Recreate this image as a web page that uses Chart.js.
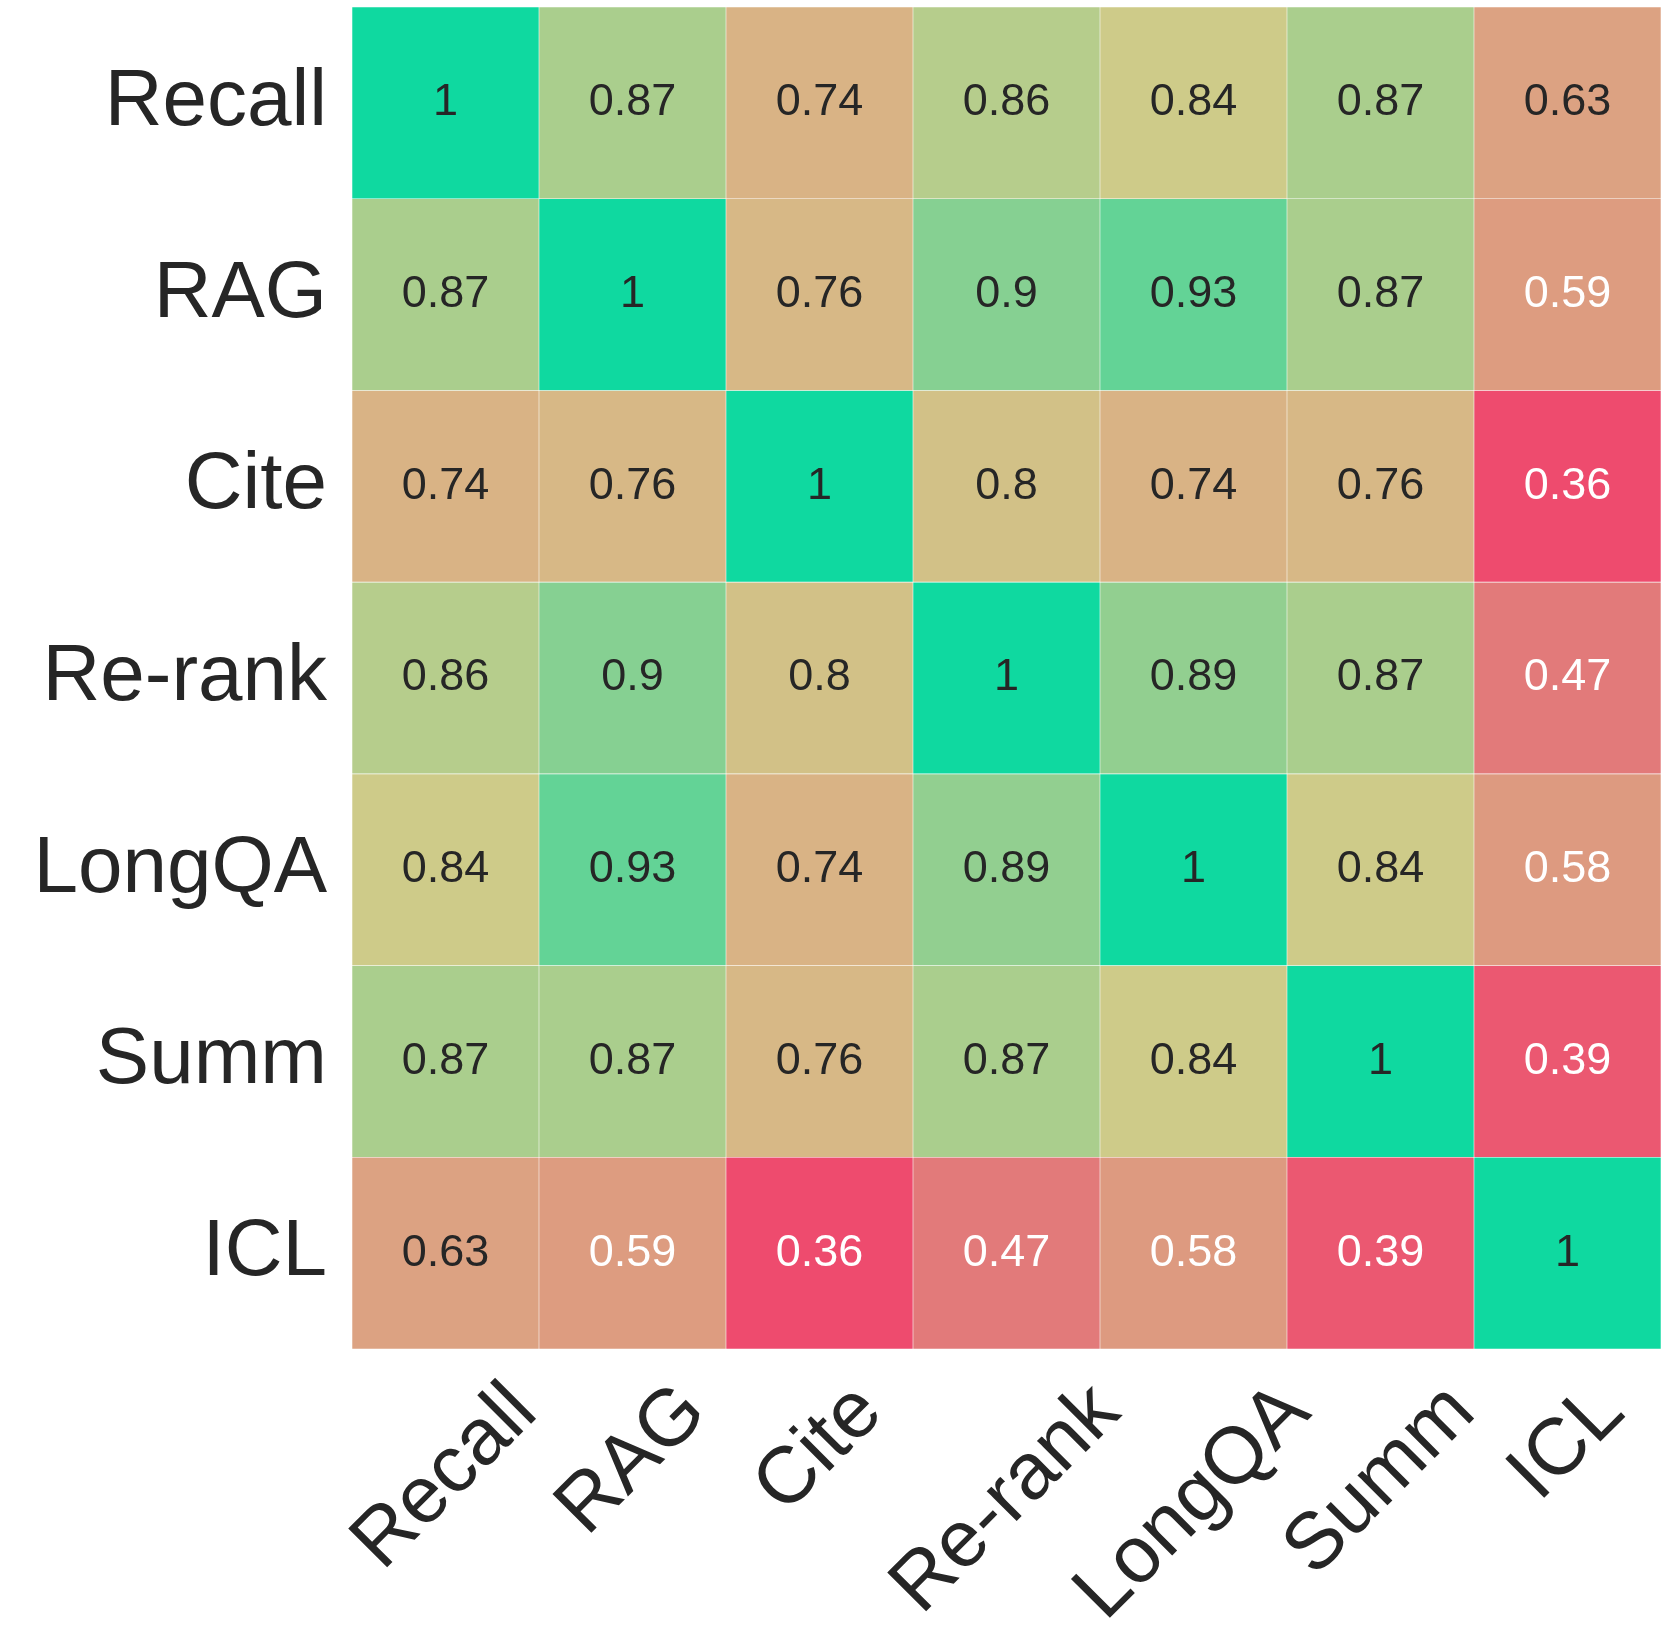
<!DOCTYPE html>
<html lang="en">
<head>
    <meta charset="UTF-8">
    <title>Task Correlation Heatmap</title>
    <script src="https://cdn.jsdelivr.net/npm/chart.js"></script>
    <style>
        html, body {
            margin: 0;
            padding: 0;
            background: #fff;
        }
        .chart-container {
            width: 1676px;
            height: 1640px;
        }
    </style>
</head>
<body>
    <div class="chart-container">
        <canvas id="heatmap" width="1676" height="1640"></canvas>
    </div>

    <script>
        // Task names (rows and columns share the same order)
        const tasks = ['Recall', 'RAG', 'Cite', 'Re-rank', 'LongQA', 'Summ', 'ICL'];

        // One array per row of the correlation matrix
        const recallRow = [1, 0.87, 0.74, 0.86, 0.84, 0.87, 0.63];
        const ragRow    = [0.87, 1, 0.76, 0.9, 0.93, 0.87, 0.59];
        const citeRow   = [0.74, 0.76, 1, 0.8, 0.74, 0.76, 0.36];
        const rerankRow = [0.86, 0.9, 0.8, 1, 0.89, 0.87, 0.47];
        const longqaRow = [0.84, 0.93, 0.74, 0.89, 1, 0.84, 0.58];
        const summRow   = [0.87, 0.87, 0.76, 0.87, 0.84, 1, 0.39];
        const iclRow    = [0.63, 0.59, 0.36, 0.47, 0.58, 0.39, 1];
        const rows = [recallRow, ragRow, citeRow, rerankRow, longqaRow, summRow, iclRow];

        const fontFamily = '"Liberation Sans", Arial, sans-serif';

        // Colour map: red -> salmon -> tan -> khaki -> green
        const cmapStops = [
            [0.36, [238, 75, 110]],
            [0.47, [226, 122, 122]],
            [0.58, [221, 154, 128]],
            [0.74, [217, 179, 133]],
            [0.84, [206, 203, 137]],
            [1.00, [15, 217, 160]]
        ];

        function cellColor(v) {
            if (v <= cmapStops[0][0]) return 'rgb(' + cmapStops[0][1].join(',') + ')';
            for (let i = 1; i < cmapStops.length; i++) {
                const [v1, c1] = cmapStops[i];
                const [v0, c0] = cmapStops[i - 1];
                if (v <= v1) {
                    const t = (v - v0) / (v1 - v0);
                    const c = c0.map((a, k) => Math.round(a + (c1[k] - a) * t));
                    return 'rgb(' + c.join(',') + ')';
                }
            }
            return 'rgb(' + cmapStops[cmapStops.length - 1][1].join(',') + ')';
        }

        // each row is a dataset of floating bars spanning one row band
        const datasets = rows.map((vals, r) => ({
            label: tasks[r],
            data: vals.map(() => [r - 0.5, r + 0.5]),
            values: vals,
            backgroundColor: vals.map(cellColor),
            borderColor: 'rgba(255,255,255,0.25)',
            borderWidth: 0.6,
            borderSkipped: false,
            grouped: false,
            barPercentage: 1,
            categoryPercentage: 1
        }));

        // draws the numbers in the cells and the rotated column labels
        const cellText = {
            id: 'cellText',
            afterDatasetsDraw(chart) {
                const ctx = chart.ctx;
                const xs = chart.scales.x;
                const ys = chart.scales.y;
                ctx.save();
                ctx.textAlign = 'center';
                ctx.textBaseline = 'middle';
                ctx.font = '45px ' + fontFamily;
                chart.data.datasets.forEach((ds, r) => {
                    ds.values.forEach((v, c) => {
                        ctx.fillStyle = v < 0.6 ? '#ffffff' : '#262626';
                        ctx.fillText(String(v), xs.getPixelForValue(c), ys.getPixelForValue(r));
                    });
                });

                // column labels, rotated 45deg, centred under each column
                const top = chart.chartArea.bottom + 22;
                const size = 80;
                ctx.font = size + 'px ' + fontFamily;
                ctx.fillStyle = '#262626';
                tasks.forEach((t, i) => {
                    const w = ctx.measureText(t).width;
                    const cx = xs.getPixelForValue(i);
                    const cy = top + (w + size) / (2 * Math.SQRT2);
                    ctx.save();
                    ctx.translate(cx, cy);
                    ctx.rotate(-Math.PI / 4);
                    ctx.fillText(t, 0, 0);
                    ctx.restore();
                });
                ctx.restore();
            }
        };

        new Chart(document.getElementById('heatmap'), {
            type: 'bar',
            data: {
                labels: tasks,
                datasets: datasets
            },
            options: {
                responsive: false,
                animation: false,
                layout: {
                    padding: { top: 7, right: 15, bottom: 291, left: 0 }
                },
                plugins: {
                    legend: { display: false },
                    tooltip: { enabled: false }
                },
                scales: {
                    x: {
                        type: 'category',
                        display: false,
                        offset: true,
                        grid: { display: false }
                    },
                    y: {
                        type: 'linear',
                        min: -0.5,
                        max: 6.5,
                        reverse: true,
                        grid: { display: false },
                        border: { display: false },
                        afterBuildTicks: (scale) => {
                            scale.ticks = tasks.map((_, i) => ({ value: i }));
                        },
                        afterFit: (scale) => {
                            scale.width = 352;
                            scale.paddingTop = 0;
                            scale.paddingBottom = 0;
                        },
                        ticks: {
                            autoSkip: false,
                            padding: 17,
                            color: '#262626',
                            font: { family: fontFamily, size: 80 },
                            callback: (v) => tasks[v]
                        }
                    }
                }
            },
            plugins: [cellText]
        });
    </script>
</body>
</html>
